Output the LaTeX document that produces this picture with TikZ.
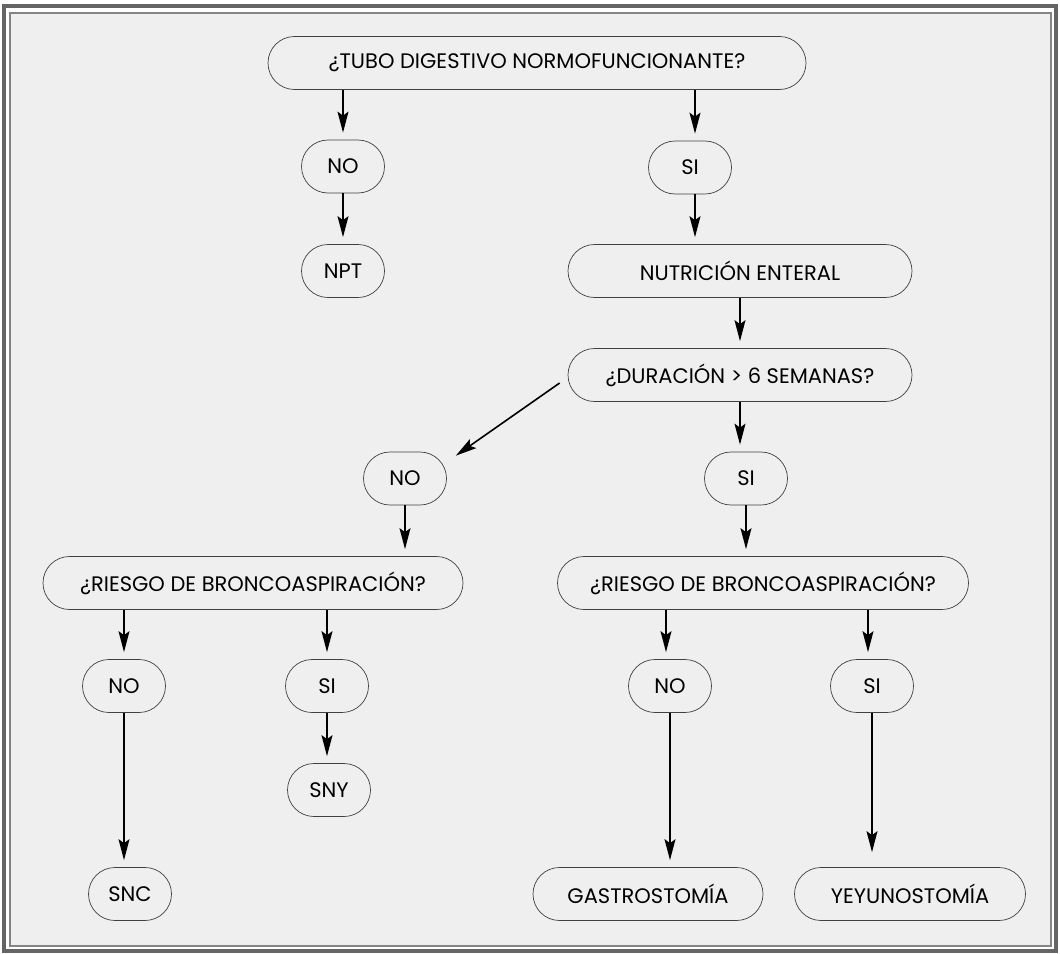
\documentclass[tikz,border=0pt]{standalone}
\usepackage{fontspec}
\setmainfont{Poppins}
\usetikzlibrary{arrows.meta}

\definecolor{panel}{HTML}{EFEFEF}
\definecolor{frame}{HTML}{656565}

\tikzset{
    stage/.style={draw=black!75, line width=0.7pt, rounded corners=26.5pt,
        minimum height=53pt, inner sep=0pt, font=\fontsize{21}{24}\selectfont},
    small/.style={stage, minimum width=83pt},
    link/.style={line width=1.6pt, shorten >=7pt,
        -{Stealth[length=21pt, width=11pt, inset=4pt]}}
}

\begin{document}
\begin{tikzpicture}[x=1pt, y=-1pt]

    % Draw the frame
    \useasboundingbox (0, 0) rectangle (1060, 953);
    \fill[white] (0, 0) rectangle (1060, 953);
    \draw[frame, line width=4pt] (4, 6) rectangle (1056, 950.5);
    \draw[frame!80, fill=panel, line width=1.2pt] (10, 13) rectangle (1051, 946);

    % Draw the first question
    \node[stage, minimum width=538pt] (tube) at (537, 63) {¿TUBO DIGESTIVO NORMOFUNCIONANTE?};
    \node[small] (no1) at (343, 166.5) {NO};
    \node[small] (npt) at (343, 271) {NPT};
    \node[small] (si1) at (690, 167.5) {SI};
    \node[stage, minimum width=344pt] (enteral) at (740, 271) {NUTRICIÓN ENTERAL};

    % Draw the duration question
    \node[stage, minimum width=344pt] (weeks) at (740, 375) {¿DURACIÓN > 6 SEMANAS?};
    \node[small] (no2) at (405, 478.5) {NO};
    \node[small] (si2) at (746, 478.5) {SI};

    % Draw the left risk branch
    \node[stage, minimum width=420pt] (riskL) at (253, 583) {¿RIESGO DE BRONCOASPIRACIÓN?};
    \node[small] (no3) at (124, 686) {NO};
    \node[small] (si3) at (327, 686) {SI};
    \node[small] (sny) at (329, 790) {SNY};
    \node[small] (snc) at (130, 894) {SNC};

    % Draw the right risk branch
    \node[stage, minimum width=411pt] (riskR) at (763, 583) {¿RIESGO DE BRONCOASPIRACIÓN?};
    \node[small] (no4) at (670, 686) {NO};
    \node[small] (si4) at (872, 686) {SI};
    \node[stage, minimum width=230pt] (gastro) at (648, 894) {GASTROSTOMÍA};
    \node[stage, minimum width=231pt] (yeyuno) at (910, 894) {YEYUNOSTOMÍA};

    % Finally draw the arrows
    \draw[link] (tube.south -| no1) -- (no1.north);
    \draw[link] ([xshift=5pt]tube.south -| si1) -- ([xshift=5pt]si1.north);
    \draw[link] (no1.south) -- (npt.north);
    \draw[link] ([xshift=5pt]si1.south) -- ([xshift=5pt]si1.south |- enteral.north);
    \draw[link] (enteral.south) -- (weeks.north);
    \draw[link, shorten >=0pt] ([shift={(-8, 8)}]weeks.west) -- ([shift={(9, 4)}]no2.north east);
    \draw[link] (weeks.south) -- (weeks.south |- si2.north);
    \draw[link] (no2.south) -- (no2.south |- riskL.north);
    \draw[link] (si2.south) -- (si2.south |- riskR.north);
    \draw[link] (riskL.south -| no3) -- (no3.north);
    \draw[link] (riskL.south -| si3) -- (si3.north);
    \draw[link] (si3.south) -- (si3.south |- sny.north);
    \draw[link] (no3.south) -- (no3.south |- snc.north);
    \draw[link] ([xshift=-4pt]riskR.south -| no4) -- ([xshift=-4pt]no4.north);
    \draw[link] ([xshift=-4pt]riskR.south -| si4) -- ([xshift=-4pt]si4.north);
    \draw[link] (no4.south) -- (no4.south |- gastro.north);
    \draw[link, shorten >=15pt] (si4.south) -- (si4.south |- yeyuno.north);

\end{tikzpicture}
\end{document}
